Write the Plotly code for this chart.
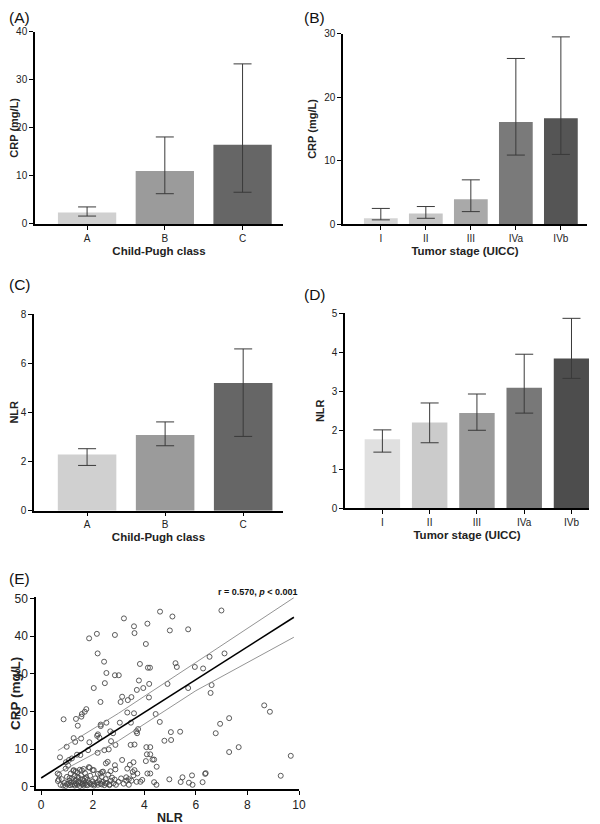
import plotly.graph_objects as go

# ---------------- data ----------------
child_pugh = ['A', 'B', 'C']
stages = ['I', 'II', 'III', 'IVa', 'IVb']

crp_cp_med = [2.4, 11.0, 16.5]
crp_cp_lo = [1.65, 6.3, 6.6]
crp_cp_hi = [3.55, 18.1, 33.3]

crp_st_med = [0.95, 1.7, 3.95, 16.1, 16.7]
crp_st_lo = [0.7, 0.95, 2.0, 10.9, 11.0]
crp_st_hi = [2.5, 2.8, 7.0, 26.1, 29.5]

nlr_cp_med = [2.28, 3.08, 5.19]
nlr_cp_lo = [1.84, 2.64, 3.02]
nlr_cp_hi = [2.52, 3.61, 6.58]

nlr_st_med = [1.77, 2.2, 2.44, 3.09, 3.84]
nlr_st_lo = [1.44, 1.68, 2.0, 2.44, 3.33]
nlr_st_hi = [2.01, 2.7, 2.93, 3.95, 4.87]

cp_colors = ['#d0d0d0', '#9b9b9b', '#666666']
crp_st_colors = ['#d4d4d4', '#c6c6c6', '#a9a9a9', '#7a7a7a', '#555555']
nlr_st_colors = ['#e0e0e0', '#cbcbcb', '#9b9b9b', '#787878', '#4d4d4d']

nlr = [4.61, 3.21, 5.09, 3.6, 4.12, 3.62, 2.16, 2.86, 1.86, 4.99, 5.7, 4.06, 2.19, 2.44,
       3.83, 5.21, 5.26, 4.14, 4.22, 5.96, 2.53, 2.86, 3.01, 2.47, 3.79, 4.9, 2.04, 3.71,
       3.96, 4.19, 5.7, 4.18, 3.14, 3.36, 3.5, 3.08, 2.3, 1.75, 1.69, 1.58, 0.87, 1.35,
       1.56, 3.6, 3.34, 4.44, 3.05, 3.48, 4.6, 2.53, 2.31, 2.31, 1.42, 5.03, 5.39, 2.68,
       2.79, 3.69, 3.72, 3.76, 4.78, 5.04, 1.87, 1.26, 1.32, 1.55, 2.17, 2.26, 2.2, 2.71,
       2.88, 3.47, 3.62, 0.99, 2.62, 2.45, 2.19, 1.82, 4.08, 4.23, 4.1, 4.23, 0.73, 1.39,
       1.52, 1.19, 1.08, 0.96, 2.58, 2.51, 4.32, 4.38, 4.48, 4.06, 3.58, 3.34, 3.44, 3.14,
       2.86,
       6.99, 7.11, 6.53, 6.28, 6.61, 6.57, 8.65, 8.87, 7.29, 6.94, 6.77, 7.66, 7.29, 9.68,
       9.29, 6.36, 6.38, 6.26, 5.85, 5.87,
       4.97, 5.41, 5.48, 5.73, 4.38, 4.47, 4.12, 4.23, 3.92, 3.73, 3.55, 3.62, 3.58, 3.3,
       3.4, 3.5, 3.7, 3.85,
       0.65, 0.7, 0.75, 0.8, 0.85, 0.9, 0.95, 0.95, 1.0, 1.05, 1.05, 1.1, 1.12, 1.15, 1.2,
       1.2, 1.25, 1.25, 1.3, 1.3, 1.35, 1.35, 1.4, 1.4, 1.45, 1.45, 1.5, 1.5, 1.55, 1.55,
       1.6, 1.6, 1.65, 1.65, 1.7, 1.7, 1.75, 1.8, 1.8, 1.85, 1.85, 1.9, 1.95, 2.0, 2.0,
       2.05, 2.1, 2.15, 2.2, 2.2, 2.25, 2.3, 2.35, 2.4, 2.4, 2.45, 2.5, 2.55, 2.6, 2.65,
       2.7, 2.75, 2.8, 2.85, 2.9, 3.0, 3.1, 3.2, 3.3, 3.4,
       0.64, 0.68, 1.26, 1.34, 1.58, 1.65, 1.88, 2.04, 2.3, 2.36, 2.69, 2.88,
       1.0, 1.15, 1.3, 1.45, 1.6, 1.75, 1.9, 2.05, 2.2, 2.35, 2.5, 2.65, 1.1, 1.4, 1.7]
crp = [46.5, 44.7, 45.2, 42.6, 43.3, 40.8, 40.6, 40.3, 39.4, 41.5, 41.8, 37.9, 35.4, 33.2,
       32.6, 32.8, 31.8, 31.6, 31.6, 31.8, 30.2, 29.6, 29.6, 27.5, 28.2, 27.3, 26.2, 25.7,
       26.2, 27.3, 26.2, 23.7, 23.9, 23.0, 23.8, 22.5, 22.5, 20.6, 19.9, 19.3, 17.9, 18.0,
       18.6, 19.5, 19.7, 19.3, 17.0, 17.0, 17.2, 17.0, 16.5, 16.1, 16.2, 14.5, 14.6, 14.7,
       14.2, 14.7, 14.2, 15.3, 12.2, 12.4, 11.8, 12.9, 11.9, 12.8, 13.5, 13.0, 13.9, 12.1,
       11.1, 11.1, 11.2, 10.6, 9.9, 9.7, 9.0, 9.7, 10.5, 10.5, 8.6, 8.6, 7.8, 8.5,
       8.4, 7.5, 7.1, 6.5, 6.6, 6.2, 7.2, 7.2, 5.3, 6.8, 6.5, 4.8, 5.8, 7.1,
       5.7,
       46.8, 35.4, 34.5, 31.4, 27.0, 24.9, 21.6, 19.9, 18.2, 16.7, 14.2, 10.5, 9.2, 8.2,
       2.9, 3.4, 3.6, 1.2, 3.0, 0.5,
       1.95, 1.24, 2.5, 1.06, 1.2, 0.5, 3.5, 3.5, 1.8, 3.5, 3.9, 4.4, 3.0, 2.5,
       2.0, 1.6, 1.3, 1.3,
       1.5, 3.2, 0.5, 2.0, 0.3, 1.0, 4.8, 0.2, 2.6, 0.8, 5.6, 1.6, 0.4, 3.5, 2.2,
       0.6, 4.2, 1.2, 0.3, 2.8, 1.8, 0.9, 3.8, 0.5, 2.4, 1.4, 0.2, 4.5, 1.0, 3.0,
       0.6, 2.0, 1.5, 0.3, 3.6, 0.9, 2.5, 0.4, 1.8, 5.2, 1.1, 2.9, 0.6, 4.4, 1.4,
       0.3, 2.2, 1.0, 3.4, 0.5, 1.7, 0.8, 2.6, 1.3, 4.0, 0.4, 2.0, 1.0, 3.2, 0.6,
       1.6, 2.4, 0.9, 1.9, 0.5, 1.3, 2.2, 0.8, 1.6, 0.5,
       3.5, 1.9, 4.4, 4.1, 4.3, 4.7, 5.0, 4.4, 3.5, 3.9, 4.1, 4.6,
       0.7, 1.1, 0.6, 1.0, 0.8, 0.5, 0.9, 0.7, 1.2, 0.6, 0.9, 0.4, 2.3, 2.6, 2.1]

fit_x = [0.0, 9.8]
fit_y = [2.3, 45.0]
ci_up_x = [0.65, 3.0, 6.0, 9.8]
ci_up_y = [9.6, 19.5, 33.0, 50.2]
ci_lo_x = [0.7, 3.0, 6.0, 9.8]
ci_lo_y = [3.8, 12.2, 25.5, 39.7]

# ---------------- figure ----------------
# the page body adds an 8px margin, so the figure is 8px smaller than the window
FONT = 'Arial, Liberation Sans, sans-serif'
fig = go.Figure()


def add_bars(cats, med, lo, hi, colors, ax):
    fig.add_trace(go.Bar(
        x=cats, y=med, marker=dict(color=colors, line=dict(width=0)),
        width=0.75, xaxis='x' + ax, yaxis='y' + ax, showlegend=False,
        error_y=dict(type='data', symmetric=False,
                     array=[h - m for h, m in zip(hi, med)],
                     arrayminus=[m - l for m, l in zip(med, lo)],
                     color='#3a3a3a', thickness=1, width=9)
    ))


add_bars(child_pugh, crp_cp_med, crp_cp_lo, crp_cp_hi, cp_colors, '')
add_bars(stages, crp_st_med, crp_st_lo, crp_st_hi, crp_st_colors, '2')
add_bars(child_pugh, nlr_cp_med, nlr_cp_lo, nlr_cp_hi, cp_colors, '3')
add_bars(stages, nlr_st_med, nlr_st_lo, nlr_st_hi, nlr_st_colors, '4')

fig.add_trace(go.Scatter(
    x=nlr, y=crp, mode='markers', xaxis='x5', yaxis='y5', showlegend=False,
    marker=dict(symbol='circle-open', size=5, color='#4a4a4a', line=dict(width=0.9))
))
for xs, ys in [(ci_up_x, ci_up_y), (ci_lo_x, ci_lo_y)]:
    fig.add_trace(go.Scatter(x=xs, y=ys, mode='lines', xaxis='x5', yaxis='y5',
                             showlegend=False, line=dict(color='#888888', width=0.9)))
fig.add_trace(go.Scatter(x=fit_x, y=fit_y, mode='lines', xaxis='x5', yaxis='y5',
                         showlegend=False, line=dict(color='black', width=1.6)))


def xax(domain, rng, title, anchor, tsize=11.5, fsize=10):
    return dict(domain=domain, anchor=anchor, range=rng, showline=True, linecolor='black',
                linewidth=1.5, ticks='outside', ticklen=4, tickwidth=1.2, tickcolor='black',
                showgrid=False, zeroline=False, automargin=False,
                tickfont=dict(size=fsize, color='#222'),
                title=dict(text='<b>' + title + '</b>' if title else '',
                           font=dict(size=tsize, color='#222'), standoff=4))


def yax(domain, rng, dtick, title, anchor, tsize=11, fsize=10):
    return dict(domain=domain, anchor=anchor, range=rng, dtick=dtick, showline=True,
                linecolor='black', linewidth=1.5, ticks='outside', ticklen=4, tickwidth=1.2,
                tickcolor='black', showgrid=False, zeroline=False, automargin=False,
                tickfont=dict(size=fsize, color='#222'),
                title=dict(text='<b>' + title + '</b>', font=dict(size=tsize, color='#222'),
                           standoff=5))


fig.update_layout(
    width=592, height=816,
    margin=dict(l=0, r=0, t=0, b=0, autoexpand=False),
    paper_bgcolor='white', plot_bgcolor='white',
    font=dict(family=FONT, color='#222'),
    xaxis=xax([0.0456, 0.4645], [-0.67, 2.52], 'Child-Pugh class', 'y'),
    yaxis=yax([0.7353, 0.9710], [0, 40], 10, 'CRP (mg/L)', 'x'),
    xaxis2=xax([0.5659, 0.9780], [-0.84, 4.58], 'Tumor stage (UICC)', 'y2'),
    yaxis2=yax([0.7349, 0.9685], [0, 30], 10, 'CRP (mg/L)', 'x2'),
    xaxis3=xax([0.0439, 0.4645], [-0.68, 2.51], 'Child-Pugh class', 'y3'),
    yaxis3=yax([0.3840, 0.6250], [0, 8], 2, 'NLR', 'x3'),
    xaxis4=xax([0.5693, 0.9814], [-0.79, 4.37], 'Tumor stage (UICC)', 'y4'),
    yaxis4=yax([0.3869, 0.6259], [0, 5], 1, 'NLR', 'x4'),
    xaxis5=xax([0.0473, 0.4916], [-0.2, 10.0], '', 'y5', fsize=12),
    yaxis5=yax([0.0425, 0.2778], [-0.7, 50.3], 10, 'CRP (mg/L)', 'x5', tsize=13.5, fsize=12),
)
fig.update_layout(xaxis5=dict(dtick=2, tick0=0))

for label, x, y in [('(A)', 0.0, 1.0), ('(B)', 0.4983, 1.0), ('(C)', 0.0, 0.6728),
                    ('(D)', 0.4983, 0.6605), ('(E)', 0.0, 0.3125)]:
    fig.add_annotation(text=label, x=x, y=y, xref='paper', yref='paper', xanchor='left',
                       yanchor='top', showarrow=False, borderpad=0,
                       font=dict(size=15.5, color='#111'))

fig.add_annotation(text='<b>NLR</b>', x=0.2736, y=0.0074, xref='paper', yref='paper',
                   xanchor='center', yanchor='middle', showarrow=False,
                   font=dict(size=12.5, color='#222'))
fig.add_annotation(text='<b>r = 0.570, <i>p</i> &lt; 0.001</b>', x=0.4932, y=0.2847,
                   xref='paper', yref='paper', xanchor='right', yanchor='middle',
                   showarrow=False, font=dict(size=9, color='#111'))

fig.write_html('out.html')
